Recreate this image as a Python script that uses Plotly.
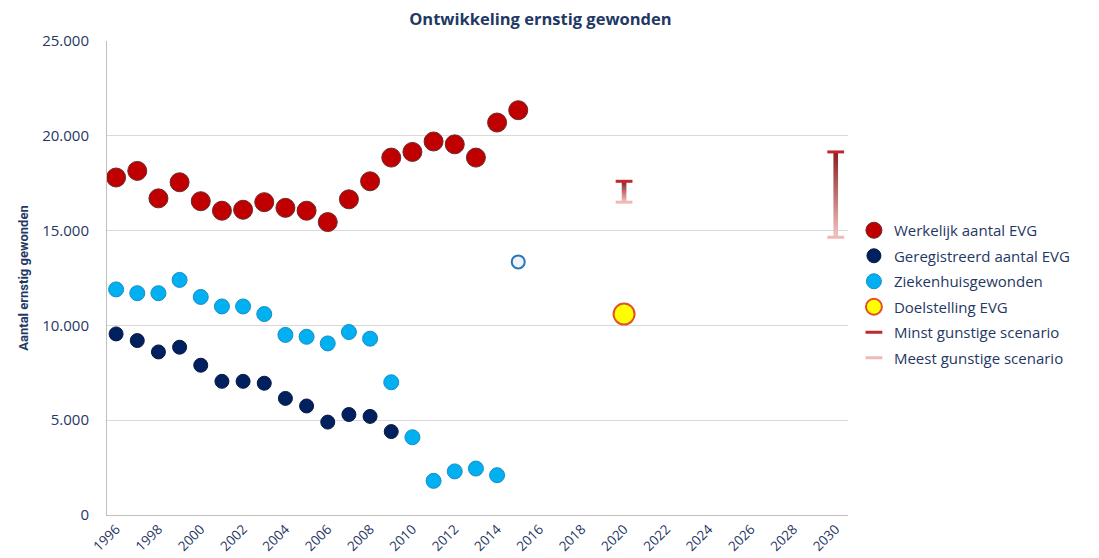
import plotly.graph_objects as go

years = list(range(1996, 2016))
werkelijk = [17800, 18150, 16700, 17550, 16550, 16050, 16100, 16500, 16200, 16050,
             15450, 16650, 17600, 18850, 19150, 19700, 19550, 18850, 20700, 21350]
geregistreerd_years = list(range(1996, 2010))
geregistreerd = [9550, 9200, 8600, 8850, 7900, 7050, 7050, 6950, 6150, 5750,
                 4900, 5300, 5200, 4400]
ziekenhuis_years = list(range(1996, 2015))
ziekenhuis = [11900, 11700, 11700, 12400, 11500, 11000, 11000, 10600, 9500, 9400,
              9050, 9650, 9300, 7000, 4100, 1800, 2300, 2450, 2100]
ziekenhuis_schatting_year = [2015]
ziekenhuis_schatting = [13350]
doel_year = [2020]
doel = [10600]
scenario_years = [2020, 2030]
minst_gunstig = [17600, 19150]
meest_gunstig = [16500, 14650]

navy = "#1f3864"
font_main = "Open Sans, Lato, sans-serif"

fig = go.Figure()

fig.add_trace(go.Scatter(x=years, y=werkelijk, mode="markers", name="Werkelijk aantal EVG", legendgroup="a",
                         marker=dict(size=19, color="#c00000", line=dict(color="#6b2a2a", width=1))))
fig.add_trace(go.Scatter(x=geregistreerd_years, y=geregistreerd, mode="markers", name="Geregistreerd aantal EVG",
                         legendgroup="b",
                         marker=dict(size=14, color="#002060", line=dict(color="#0a1a40", width=1))))
fig.add_trace(go.Scatter(x=ziekenhuis_years, y=ziekenhuis, mode="markers", name="Ziekenhuisgewonden",
                         legendgroup="c",
                         marker=dict(size=15, color="#00b0f0", line=dict(color="#1a8cc8", width=1))))
fig.add_trace(go.Scatter(x=ziekenhuis_schatting_year, y=ziekenhuis_schatting, mode="markers", showlegend=False,
                         legendgroup="c",
                         marker=dict(size=13, color="#eef4fb", line=dict(color="#2e75b6", width=2))))
fig.add_trace(go.Scatter(x=doel_year, y=doel, mode="markers", name="Doelstelling EVG", legendgroup="d",
                         marker=dict(size=21, color="#ffff00", line=dict(color="#e0502a", width=2))))

# gradient range bars between the two scenarios
half = 0.11
for yr, hi, lo in zip(scenario_years, minst_gunstig, meest_gunstig):
    fig.add_trace(go.Scatter(
        x=[yr - half, yr + half, yr + half, yr - half, yr - half],
        y=[lo, lo, hi, hi, lo], mode="lines", fill="toself", line=dict(width=0),
        fillgradient=dict(type="vertical", colorscale=[[0, "#f2c4c4"], [1, "#8b1e1e"]]),
        showlegend=False, hoverinfo="skip", legendgroup="z"))

fig.add_trace(go.Scatter(x=scenario_years, y=minst_gunstig, mode="markers", name="Minst gunstige scenario",
                         legendgroup="e",
                         marker=dict(symbol="line-ew", size=12, line=dict(color="#c0282d", width=3))))
fig.add_trace(go.Scatter(x=scenario_years, y=meest_gunstig, mode="markers", name="Meest gunstige scenario",
                         legendgroup="f",
                         marker=dict(symbol="line-ew", size=12, line=dict(color="#f0b8b8", width=3))))

fig.update_layout(
    width=1091, height=550,
    margin=dict(l=99, r=251, t=33, b=43),
    plot_bgcolor="white", paper_bgcolor="white",
    separators=",.",
    title=dict(text="<b>Ontwikkeling ernstig gewonden</b>", x=0.488, xanchor="center",
               y=0.98, yanchor="middle", font=dict(family=font_main, size=16.5, color=navy)),
    legend=dict(x=1.008, xanchor="left", y=0.635, yanchor="top",
                font=dict(family=font_main, size=15, color=navy),
                itemwidth=30, tracegroupgap=3, bgcolor="rgba(0,0,0,0)"),
    font=dict(family=font_main, color=navy),
)

fig.update_xaxes(range=[1995.57, 2030.58], tickvals=list(range(1996, 2031, 2)),
                 tickangle=-45, showgrid=False, showline=True, linecolor="#bfbfbf", linewidth=1,
                 zeroline=False, ticks="", tickfont=dict(family=font_main, size=13.5, color=navy),
                 automargin=False)
fig.update_yaxes(range=[0, 25000], tickvals=[0, 5000, 10000, 15000, 20000, 25000], tickformat=",d",
                 showgrid=True, gridcolor="#d9d9d9", showline=True, linecolor="#bfbfbf", linewidth=1,
                 zeroline=False, ticks="", ticklabelstandoff=14,
                 tickfont=dict(family=font_main, size=15, color=navy), automargin=False,
                 title=dict(text="<b>Aantal ernstig gewonden</b>", standoff=10,
                            font=dict(family="Liberation Sans Narrow, Roboto, sans-serif", size=13, color=navy)))

fig.write_html("out.html")
